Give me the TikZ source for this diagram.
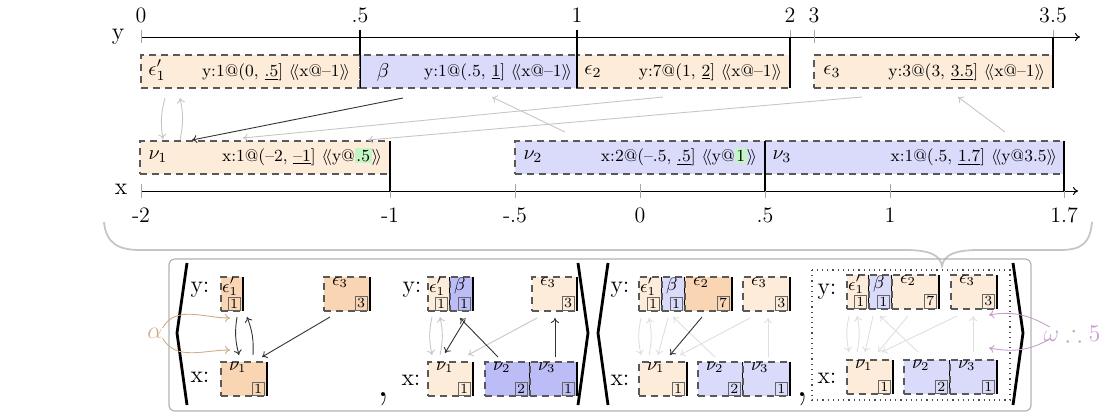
\documentclass[tikz,border=0pt]{standalone}
\usepackage{amssymb}
\usetikzlibrary{arrows.meta, calc}
\definecolor{peachL}{HTML}{FDECDA}
\definecolor{peachM}{HTML}{F9D5B3}
\definecolor{blueL}{HTML}{DADAFB}
\definecolor{blueM}{HTML}{BCBCF7}
\definecolor{hlgreen}{HTML}{C4F5C4}
\definecolor{alphatan}{HTML}{D0AC88}
\definecolor{omegamauve}{HTML}{C99DD2}
\newcommand\hlg[1]{{\setlength\fboxsep{0.8pt}\colorbox{hlgreen}{#1}}}
\newcommand\dang[1]{$\langle\!\langle$#1$\rangle\!\rangle$}
% small interval box: name, x, y, width, fill, label, count, label offset
\newcommand\ivbox[8]{%
  \node[cell, fill=#5, minimum width=#4*0.5pt] (#1) at (#2,#3) {};
  \draw[rim] (#1.north east) -- (#1.south east);
  \node[anchor=north west, font=\small] (#1l) at ($(#1.north west)+(#8,1)$) {$#6$};
  \node[tag, anchor=south east] (#1c) at ($(#1.south east)+(-3,-1)$) {#7};
}

\begin{document}
\begin{tikzpicture}[
    x=0.5pt, y=-0.5pt,
    >={To[length=2.5pt,width=4pt]},
    every node/.append style={inner sep=0pt, outer sep=0pt},
    band/.style={draw=black!65, dash pattern=on 3.5pt off 2.5pt, line width=0.6pt,
                 anchor=north west, minimum height=16.5pt},
    cell/.style={band, minimum height=17pt},
    rim/.style={line width=1.1pt},
    tickline/.style={gray!70, line width=0.5pt},
    tag/.style={draw=black!60, line width=0.4pt, inner sep=0.9pt, font=\scriptsize},
    link/.style={->, line width=0.45pt},
    dark/.style={link, black!80},
    faint/.style={link, gray!45},
    pale/.style={link, gray!25},
    bracket/.style={line width=1.4pt},
    ticklabel/.style={anchor=base, font=\fontsize{11}{13}\selectfont},
    rowlabel/.style={font=\large},
    boxtext/.style={anchor=east, font=\fontsize{8.5}{10}\selectfont},
  ]
  \useasboundingbox (0,0) rectangle (1111,414);

  % y line
  \draw[line width=0.5pt, ->] (141,37) -- (1080,37);
  \node[font=\large] (ylabel) at (118,37) {y};
  \foreach \p/\t in {141/0,360/.5,577/1,790/2,814/3,1053/3.5} {
    \draw[tickline] (\p,30) -- (\p,43);
    \node[ticklabel] (yt\p) at (\p,22) {\t};
  }
  \node[band, fill=peachL, minimum width=109.5pt] (e1) at (141,55) {};
  \node[band, fill=blueL, minimum width=108.5pt] (b1) at (360,55) {};
  \node[band, fill=peachL, minimum width=106.5pt] (e2) at (577,55) {};
  \node[band, fill=peachL, minimum width=119.5pt] (e3) at (814,55) {};
  \node (e1l) at (157,70) {$\epsilon'_1$};
  \node (b1l) at (383,72) {$\beta$};
  \node (e2l) at (593,72) {$\epsilon_2$};
  \node (e3l) at (832,72) {$\epsilon_3$};
  \node[boxtext] (e1t) at (350,72) {y:1@(0, \underline{.5}] \dang{x@--1}};
  \node[boxtext] (b1t) at (572,72) {y:1@(.5, \underline{1}] \dang{x@--1}};
  \node[boxtext] (e2t) at (782,72) {y:7@(1, \underline{2}] \dang{x@--1}};
  \node[boxtext] (e3t) at (1045,72) {y:3@(3, \underline{3.5}] \dang{x@--1}};
  \draw[line width=0.5pt] (e1.north east) -- (e1.south east);
  \draw[rim] (e1.north east) -- ++(0,-25);
  \draw[rim] (b1.south east) -- ++(0,-58);
  \draw[rim] (e2.south east) -- ++(0,-51);
  \draw[rim] (e3.south east) -- ++(0,-51);

  % x line
  \draw[line width=0.5pt, ->] (141,191) -- (1078,191);
  \node[font=\large] (xlabel) at (121,189) {x};
  \foreach \p/\t in {141/-2,390/-1,515/-.5,640/0,765/.5,890/1,1064/1.7} {
    \draw[tickline] (\p,184) -- (\p,198);
    \node[ticklabel] (xt\p) at (\p,222) {\t};
  }
  \node[band, fill=peachL, minimum width=125pt] (n1) at (140,141) {};
  \node[band, fill=blueL, minimum width=125pt] (n2) at (515,141) {};
  \node[band, fill=blueL, minimum width=149.5pt] (n3) at (765,141) {};
  \node (n1l) at (158,157) {$\nu_1$};
  \node (n2l) at (533,157) {$\nu_2$};
  \node (n3l) at (782,157) {$\nu_3$};
  \node[boxtext] (n1t) at (382,157) {x:1@(--2, \underline{--1}] \dang{y@\hlg{.5}}};
  \node[boxtext] (n2t) at (757,157) {x:2@(--.5, \underline{.5}] \dang{y@\hlg{1}}};
  \node[boxtext] (n3t) at (1057,157) {x:1@(.5, \underline{1.7}] \dang{y@3.5}};
  \draw[rim] (n1.north east) -- ++(0,50);
  \draw[rim] (n2.north east) -- ++(0,50);
  \draw[rim] (n3.north east) -- ++(0,50);

  % links between the lines
  \draw[faint] ($(e1.south west)+(24,10)$) to[bend right=12] ($(n1.north west)+(23,-2)$);
  \draw[faint] ($(n1.north west)+(40,-1)$) to[bend right=12] ($(e1.south west)+(39,10)$);
  \draw[dark] ($(b1.south west)+(43,10)$) -- ($(n1.north west)+(52,-1)$);
  \draw[faint] ($(e2.south west)+(86,9)$) -- ($(n1.north west)+(103,-3)$);
  \draw[faint] ($(e3.south west)+(48,9)$) -- ($(n1.north west)+(228,-1)$);
  \draw[faint] ($(n2.north west)+(50,-9)$) -- ($(b1.south west)+(132,9)$);
  \draw[faint] ($(n3.north west)+(240,-9)$) -- ($(e3.south west)+(144,9)$);

  % brace
  \draw[gray!45, line width=0.9pt] (104,222) .. controls (106,243) and (118,250) .. (140,250)
    -- (905,250) .. controls (930,250) and (940,255) .. (942,266)
    .. controls (944,255) and (954,250) .. (979,250) -- (1060,250)
    .. controls (1082,250) and (1090,243) .. (1092,222);

  % sequence of states
  \draw[gray!60, line width=0.6pt, rounded corners=3pt] (169,259) rectangle (1031,411);
  \draw[bracket] (187,263) -- (177,333) -- (187,405);
  \draw[bracket] (578,263) -- (588,333) -- (578,405);
  \draw[bracket] (608,263) -- (598,333) -- (608,405);
  \draw[bracket] (1013,263) -- (1023,333) -- (1013,405);
  \node[anchor=base, font=\fontsize{24}{26}\selectfont] (comma1) at (383,396) {,};
  \node[anchor=base, font=\fontsize{24}{26}\selectfont] (comma2) at (802,396) {,};

  % state 1
  \node[rowlabel] (g1y) at (200,290) {y:};
  \node[rowlabel] (g1x) at (200,377) {x:};
  \ivbox{g1e1}{221}{277}{22}{peachM}{\epsilon'_1}{1}{1}
  \ivbox{g1e3}{324}{277}{46}{peachM}{\epsilon_3}{3}{8}
  \ivbox{g1n1}{221}{362}{46}{peachM}{\nu_1}{1}{8}
  \draw[dark] ($(g1e1.south west)+(16,6)$) to[bend right=12] ($(g1n1.north west)+(18,-7)$);
  \draw[dark] ($(g1n1.north west)+(32,-7)$) to[bend right=12] ($(g1e1.south west)+(26,6)$);
  \draw[dark] ($(g1e3.south west)+(6,6)$) -- ($(g1n1.north west)+(41,-5)$);
  \node[font=\large, text=alphatan] (alpha) at (155,333) {$\alpha$};
  \draw[link, alphatan] (alpha.north east) to[out=60, in=180] ($(g1e1.south west)+(9,7)$);
  \draw[link, alphatan] (alpha.south east) to[out=-60, in=180] ($(g1n1.north west)+(9,-12)$);

  % state 2
  \node[rowlabel] (g2y) at (412,290) {y:};
  \node[rowlabel] (g2x) at (411,380) {x:};
  \ivbox{g2e1}{428}{277}{22}{peachL}{\epsilon'_1}{1}{1}
  \ivbox{g2b}{450}{277}{23}{blueM}{\beta}{1}{4}
  \ivbox{g2e3}{532}{277}{45}{peachL}{\epsilon_3}{3}{8}
  \ivbox{g2n1}{428}{362}{45}{peachL}{\nu_1}{1}{8}
  \ivbox{g2n2}{485}{362}{45}{blueM}{\nu_2}{2}{8}
  \ivbox{g2n3}{530}{362}{47}{blueM}{\nu_3}{1}{8}
  \draw[faint] ($(g2e1.south west)+(4,6)$) to[bend right=12] ($(g2n1.north west)+(4,-7)$);
  \draw[faint] ($(g2n1.north west)+(12,-7)$) to[bend right=12] ($(g2e1.south west)+(12,6)$);
  \draw[faint] ($(g2e3.south west)+(5,7)$) -- ($(g2n1.north west)+(40,-7)$);
  \draw[dark] ($(g2b.south west)+(15,9)$) -- ($(g2n1.north west)+(17,-9)$);
  \draw[dark] ($(g2n2.north west)+(13,-5)$) -- ($(g2b.south west)+(10,7)$);
  \draw[dark] ($(g2n3.north west)+(25,-5)$) -- ($(g2e3.south west)+(23,7)$);

  % state 3
  \node[rowlabel] (g3y) at (620,290) {y:};
  \node[rowlabel] (g3x) at (620,380) {x:};
  \ivbox{g3e1}{639}{277}{23}{peachL}{\epsilon'_1}{1}{1}
  \ivbox{g3b}{662}{277}{23}{blueL}{\beta}{1}{4}
  \ivbox{g3e2}{685}{277}{47}{peachM}{\epsilon_2}{7}{8}
  \ivbox{g3e3}{743}{277}{47}{peachL}{\epsilon_3}{3}{8}
  \ivbox{g3n1}{639}{362}{48}{peachL}{\nu_1}{1}{8}
  \ivbox{g3n2}{698}{362}{45}{blueL}{\nu_2}{2}{8}
  \ivbox{g3n3}{743}{362}{47}{blueL}{\nu_3}{1}{8}
  \draw[pale] ($(g3e1.south west)+(2,7)$) to[bend right=12] ($(g3n1.north west)+(2,-7)$);
  \draw[pale] ($(g3n1.north west)+(10,-7)$) to[bend right=12] ($(g3e1.south west)+(10,7)$);
  \draw[pale] ($(g3b.south west)+(6,7)$) -- ($(g3n1.north west)+(19,-7)$);
  \draw[pale] ($(g3n2.north west)+(17,-5)$) -- ($(g3b.south west)+(11,6)$);
  \draw[pale] ($(g3e3.south west)+(7,7)$) -- ($(g3n1.north west)+(41,-7)$);
  \draw[pale] ($(g3n3.north west)+(25,-5)$) -- ($(g3e3.south west)+(25,7)$);
  \draw[dark] ($(g3e2.south west)+(17,6)$) -- ($(g3n1.north west)+(31,-7)$);

  % state 4
  \draw[dotted, black!70, line width=0.6pt] (812,270) rectangle (1010,400);
  \node[rowlabel] (g4y) at (827,292) {y:};
  \node[rowlabel] (g4x) at (827,378) {x:};
  \ivbox{g4e1}{847}{275}{22}{peachL}{\epsilon'_1}{1}{1}
  \ivbox{g4b}{869}{275}{23}{blueL}{\beta}{1}{4}
  \ivbox{g4e2}{892}{275}{47}{peachL}{\epsilon_2}{7}{8}
  \ivbox{g4e3}{951}{275}{46}{peachL}{\epsilon_3}{3}{8}
  \ivbox{g4n1}{847}{360}{46}{peachL}{\nu_1}{1}{8}
  \ivbox{g4n2}{904}{360}{46}{blueL}{\nu_2}{2}{8}
  \ivbox{g4n3}{950}{360}{47}{blueL}{\nu_3}{1}{8}
  \draw[pale] ($(g4e1.south west)+(2,7)$) to[bend right=12] ($(g4n1.north west)+(2,-8)$);
  \draw[pale] ($(g4n1.north west)+(10,-8)$) to[bend right=12] ($(g4e1.south west)+(10,7)$);
  \draw[pale] ($(g4b.south west)+(4,7)$) -- ($(g4n1.north west)+(18,-8)$);
  \draw[pale] ($(g4n2.north west)+(14,-8)$) -- ($(g4b.south west)+(11,7)$);
  \draw[pale] ($(g4e2.south west)+(16,7)$) -- ($(g4n1.north west)+(31,-8)$);
  \draw[pale] ($(g4e3.south west)+(6,7)$) -- ($(g4n1.north west)+(35,-8)$);
  \draw[pale] ($(g4n3.north west)+(23,-8)$) -- ($(g4e3.south west)+(22,7)$);
  \node[font=\large, text=omegamauve] (omega) at (1072,333) {$\omega \mathrel{\therefore} 5$};
  \draw[link, omegamauve] ($(omega.west)+(6,-6)$) to[out=150, in=10] ($(g4e3.south east)+(-8,6)$);
  \draw[link, omegamauve] ($(omega.west)+(6,6)$) to[out=-150, in=-10] ($(g4n3.north east)+(-8,-12)$);
\end{tikzpicture}
\end{document}
